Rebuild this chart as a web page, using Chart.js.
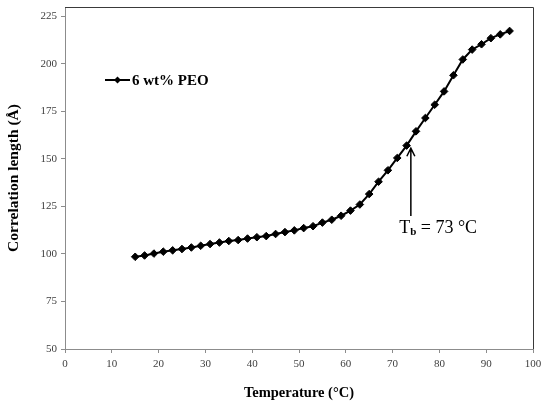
<!DOCTYPE html>
<html>
<head>
<meta charset="utf-8">
<script src="https://cdn.jsdelivr.net/npm/chart.js@4/dist/chart.umd.min.js"></script>
<style>
  html, body { margin: 0; padding: 0; background: #fff; }
  #wrap { width: 549px; height: 405px; }
</style>
</head>
<body>
<div id="wrap"><canvas id="chart" width="549" height="405"></canvas></div>
<script>
// temperature (°C) and correlation length (Å)
const temperatures = [15, 17, 19, 21, 23, 25, 27, 29, 31, 33, 35, 37, 39, 41, 43, 45, 47, 49, 51, 53,
    55, 57, 59, 61, 63, 65, 67, 69, 71, 73, 75, 77, 79, 81, 83, 85, 87, 89, 91, 93, 95];
const corrLength = [98.5, 99.2, 100.2, 101.2, 101.9, 102.6, 103.4, 104.3, 105.2, 106.0, 106.8, 107.3, 108.1, 108.8, 109.4, 110.5, 111.5, 112.4, 113.6, 114.6,
    116.5, 118.0, 120.1, 122.8, 126.0, 131.5, 138.0, 144.0, 150.5, 157.0, 164.5, 171.5, 178.5, 185.5, 194.0, 202.3, 207.5, 210.3, 213.5, 215.5, 217.3];
const xTicks = [0, 10, 20, 30, 40, 50, 60, 70, 80, 90, 100];
const yTicks = [50, 75, 100, 125, 150, 175, 200, 225];
const seriesName = '6 wt% PEO';

// Tb annotation (data units)
const tbLabel = { x: 71.4, y: 111 };
const tbArrow = { x: 73.9, from: 120, to: 155.6 };

document.addEventListener('DOMContentLoaded', () => {
    const ctx = document.getElementById('chart').getContext('2d');
    const serif = '"Liberation Serif", "Times New Roman", serif';

    const extras = {
        id: 'extras',
        afterDraw(chart) {
            const c = chart.ctx;
            const a = chart.chartArea;
            const xs = chart.scales.x, ys = chart.scales.y;
            c.save();

            // top and right frame of the plot area
            c.strokeStyle = '#3a3a3a';
            c.lineWidth = 1;
            c.beginPath();
            c.moveTo(a.left, a.top + 0.5);
            c.lineTo(a.right + 0.5, a.top + 0.5);
            c.lineTo(a.right + 0.5, a.bottom);
            c.stroke();

            // legend inside plot
            const ly = 80;
            const lx = a.left + 40;
            c.strokeStyle = '#000';
            c.lineWidth = 2;
            c.beginPath();
            c.moveTo(lx, ly);
            c.lineTo(lx + 25, ly);
            c.stroke();
            c.fillStyle = '#000';
            c.beginPath();
            c.moveTo(lx + 12.5 - 3.5, ly);
            c.lineTo(lx + 12.5, ly - 3.5);
            c.lineTo(lx + 12.5 + 3.5, ly);
            c.lineTo(lx + 12.5, ly + 3.5);
            c.closePath();
            c.fill();
            c.font = 'bold 15px ' + serif;
            c.textBaseline = 'middle';
            c.textAlign = 'left';
            c.fillText(seriesName, lx + 27, ly + 1);

            // arrow pointing to Tb
            const ax = xs.getPixelForValue(tbArrow.x);
            const ay0 = ys.getPixelForValue(tbArrow.from);
            const ay1 = ys.getPixelForValue(tbArrow.to);
            c.lineWidth = 1.5;
            c.beginPath();
            c.moveTo(ax, ay0);
            c.lineTo(ax, ay1);
            c.moveTo(ax - 4, ay1 + 8);
            c.lineTo(ax, ay1);
            c.lineTo(ax + 4, ay1 + 8);
            c.stroke();

            // Tb label
            let tx = xs.getPixelForValue(tbLabel.x);
            const ty = ys.getPixelForValue(tbLabel.y);
            c.textBaseline = 'alphabetic';
            c.font = '18px ' + serif;
            c.fillText('T', tx, ty);
            tx += c.measureText('T').width;
            c.font = 'bold 11px ' + serif;
            c.fillText('b', tx, ty + 2);
            tx += c.measureText('b').width;
            c.font = '18px ' + serif;
            c.fillText(' = 73 °C', tx, ty);

            c.restore();
        }
    };

    new Chart(ctx, {
        type: 'line',
        data: {
            datasets: [{
                label: seriesName,
                data: temperatures.map((t, i) => ({ x: t, y: corrLength[i] })),
                borderColor: '#000',
                backgroundColor: '#000',
                borderWidth: 2,
                pointStyle: 'rectRot',
                pointRadius: 3.8,
                pointBorderWidth: 1,
                tension: 0,
                fill: false
            }]
        },
        options: {
            responsive: false,
            animation: false,
            events: [],
            layout: { padding: { left: 0, right: 16, top: 7, bottom: 0 } },
            scales: {
                x: {
                    type: 'linear',
                    min: 0,
                    max: 100,
                    afterBuildTicks: s => { s.ticks = xTicks.map(v => ({ value: v })); },
                    afterFit: s => { s.height = 56; },
                    grid: { drawOnChartArea: false, drawTicks: true, tickLength: 4, color: '#8c8c8c' },
                    border: { color: '#8c8c8c', width: 1 },
                    ticks: { color: '#404040', padding: 5, maxRotation: 0, font: { family: serif, size: 11 } },
                    title: {
                        display: true,
                        text: 'Temperature (°C)',
                        color: '#000',
                        padding: { top: 4, bottom: 3 },
                        font: { family: serif, size: 14.5, weight: 'bold' }
                    }
                },
                y: {
                    type: 'linear',
                    min: 50,
                    max: 229.9,
                    afterBuildTicks: s => { s.ticks = yTicks.map(v => ({ value: v })); },
                    afterFit: s => { s.width = 65; s.paddingTop = 0; },
                    grid: { drawOnChartArea: false, drawTicks: true, tickLength: 4, color: '#8c8c8c' },
                    border: { color: '#8c8c8c', width: 1 },
                    ticks: { color: '#404040', padding: 4, font: { family: serif, size: 11 } },
                    title: {
                        display: true,
                        text: 'Correlation length (Å)',
                        color: '#000',
                        padding: { top: 5, bottom: 0 },
                        font: { family: serif, size: 15.5, weight: 'bold' }
                    }
                }
            },
            plugins: {
                legend: { display: false },
                tooltip: { enabled: false }
            }
        },
        plugins: [extras]
    });
});
</script>
</body>
</html>
